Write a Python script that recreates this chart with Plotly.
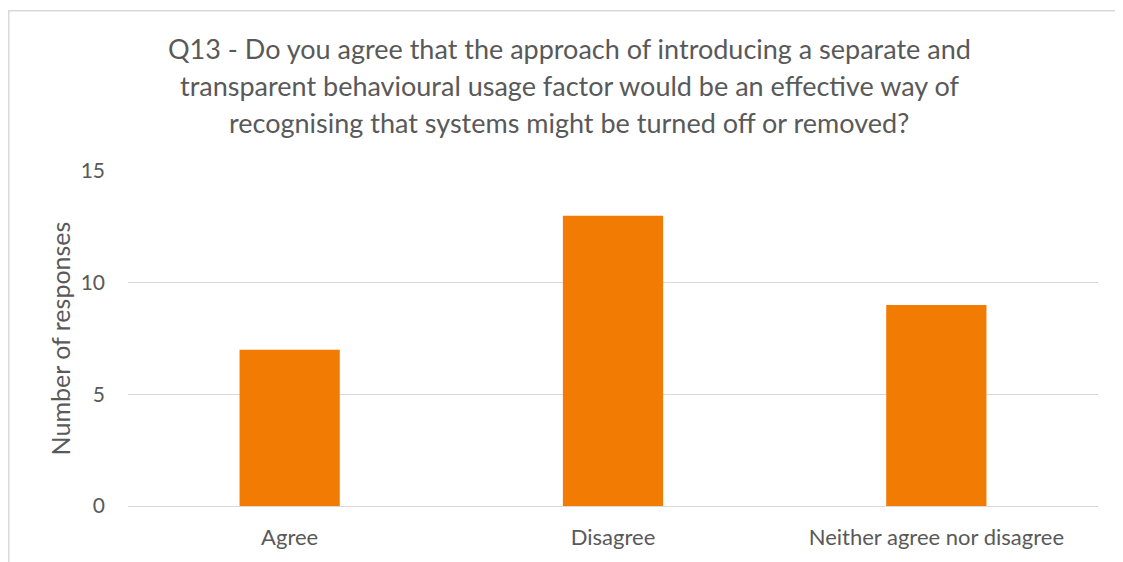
import plotly.graph_objects as go

categories = ["Agree", "Disagree", "Neither agree nor disagree"]
responses = [7, 13, 9]
y_ticks = [0, 5, 10, 15]
title_lines = [
    "Q13 - Do you agree that the approach of introducing a separate and",
    "transparent behavioural usage factor would be an effective way of",
    "recognising that systems might be turned off or removed?",
]

FONT = "Lato, Carlito, 'Open Sans', sans-serif"
GREY = "#595959"

fig = go.Figure(go.Bar(
    x=categories, y=responses,
    marker=dict(color="#F27C03", line=dict(width=0)),
    width=0.31,
))

# page body has an 8px margin, so the figure is laid out 8px smaller
W, H = 1115, 554
L, R, T, B = 120, 25, 163, 54
pw, ph = W - L - R, H - T - B

def px(x):
    return (x - L) / pw

def py(y):
    return (H - B - y) / ph

anns = []
for line, yc in zip(title_lines, [40, 77, 114]):
    anns.append(dict(text=line, x=px(561), y=py(yc), xref="paper", yref="paper",
                     xanchor="center", yanchor="middle", showarrow=False,
                     font=dict(family=FONT, size=27, color=GREY)))

fig.update_layout(
    width=W, height=H,
    margin=dict(l=L, r=R, t=T, b=B),
    paper_bgcolor="white", plot_bgcolor="white",
    font=dict(family=FONT, color=GREY),
    showlegend=False,
    annotations=anns,
    xaxis=dict(showgrid=False, showline=False, zeroline=False, ticks="",
               tickfont=dict(size=22, color=GREY), ticklabelstandoff=16),
    yaxis=dict(range=[0, 15], tickvals=y_ticks, showgrid=True, gridcolor="#D9D9D9",
               gridwidth=1, zeroline=True, zerolinecolor="#D9D9D9", zerolinewidth=1,
               showline=False, ticks="", tickfont=dict(size=21, color=GREY),
               ticklabelstandoff=22,
               title=dict(text="Number of responses", font=dict(size=25, color=GREY),
                          standoff=2)),
    shapes=[
        dict(type="line", xref="paper", yref="paper", x0=px(0.75), x1=px(0.75), y0=py(1), y1=py(600),
             line=dict(color="#D9D9D9", width=1.5)),
        dict(type="line", xref="paper", yref="paper", x0=px(0), x1=px(1200), y0=py(1.75), y1=py(1.75),
             line=dict(color="#D9D9D9", width=1.5)),
    ],
)

fig.write_html("out.html")
